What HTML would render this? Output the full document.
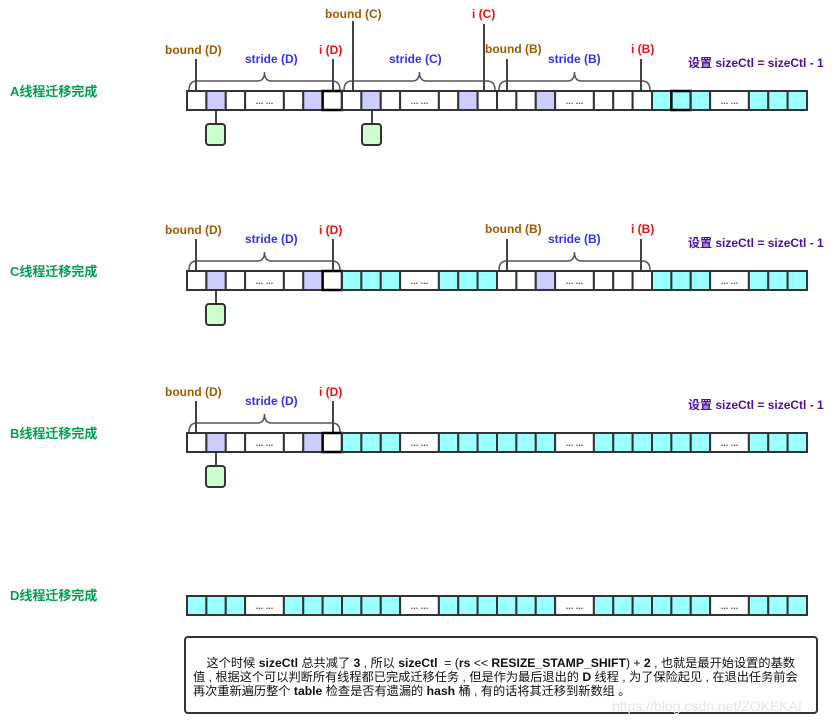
<!DOCTYPE html>
<html><head><meta charset="utf-8">
<style>
html,body{margin:0;padding:0;background:#fff;}
svg{display:block;}
text{font-family:"Liberation Sans","Noto Sans CJK SC",sans-serif;font-weight:bold;}
.lb{fill:#00a050;font-size:13px;}
.bd{fill:#a05a00;font-size:12px;}
.st{fill:#3333ee;font-size:12px;}
.ii{fill:#ee1111;font-size:12px;}
.sz{fill:#4b0fa0;font-size:12px;}
.box{position:absolute;left:184px;top:636px;width:634px;height:78px;border:2px solid #333;border-radius:4px;box-sizing:border-box;}
.box p{margin:0;position:absolute;left:7px;top:18px;white-space:nowrap;font-family:"Liberation Sans","Noto Sans CJK SC",sans-serif;font-size:12.2px;line-height:14px;color:#111;}
.wm{position:absolute;left:612px;top:698px;font-family:"Liberation Sans",sans-serif;font-size:14px;color:#e4e4e4;}
</style></head><body>
<div style="position:relative;width:835px;height:725px;overflow:hidden;">
<svg id="s" width="835" height="725" xmlns="http://www.w3.org/2000/svg">
<g stroke="#444" stroke-width="2" fill="none" id="lines"></g>
<text class="lb" x="10" y="96">A线程迁移完成</text>
<text class="lb" x="10" y="276">C线程迁移完成</text>
<text class="lb" x="10" y="438">B线程迁移完成</text>
<text class="lb" x="10" y="600">D线程迁移完成</text>

<text class="bd" x="165" y="54">bound (D)</text>
<text class="st" x="245" y="63">stride (D)</text>
<text class="ii" x="319" y="54">i (D)</text>
<text class="bd" x="325" y="18">bound (C)</text>
<text class="st" x="389" y="63">stride (C)</text>
<text class="ii" x="472" y="18">i (C)</text>
<text class="bd" x="485" y="53">bound (B)</text>
<text class="st" x="548" y="63">stride (B)</text>
<text class="ii" x="631" y="53">i (B)</text>
<text class="sz" x="688" y="67">设置 sizeCtl = sizeCtl - 1</text>

<text class="bd" x="165" y="234">bound (D)</text>
<text class="st" x="245" y="243">stride (D)</text>
<text class="ii" x="319" y="234">i (D)</text>
<text class="bd" x="485" y="233">bound (B)</text>
<text class="st" x="548" y="243">stride (B)</text>
<text class="ii" x="631" y="233">i (B)</text>
<text class="sz" x="688" y="247">设置 sizeCtl = sizeCtl - 1</text>

<text class="bd" x="165" y="396">bound (D)</text>
<text class="st" x="245" y="405">stride (D)</text>
<text class="ii" x="319" y="396">i (D)</text>
<text class="sz" x="688" y="409">设置 sizeCtl = sizeCtl - 1</text>
<g id="cells"></g>
</svg>
<div class="box"><p>&nbsp;&nbsp;&nbsp;&nbsp;这个时候 <b>sizeCtl</b> 总共减了 <b>3</b> , 所以 <b>sizeCtl</b> &nbsp;= (<b>rs</b> &lt;&lt; <b>RESIZE_STAMP_SHIFT</b>) + <b>2</b> , 也就是最开始设置的基数<br>值 , 根据这个可以判断所有线程都已完成迁移任务 , 但是作为最后退出的 <b>D</b> 线程 , 为了保险起见 , 在退出任务前会<br>再次重新遍历整个 <b>table</b> 检查是否有遗漏的 <b>hash</b> 桶 , 有的话将其迁移到新数组 。</p></div>
<div class="wm">https://blog.csdn.net/ZOKEKAI</div>
</div>
<script>
var NS="http://www.w3.org/2000/svg";
var cells=document.getElementById('cells'),lines=document.getElementById('lines');
function el(p,t,a){var e=document.createElementNS(NS,t);for(var k in a)e.setAttribute(k,a[k]);p.appendChild(e);return e;}
var U=155/8;
var rows=[[91,['D','C','B','Y']],[271,['D','Y','B','Y']],[433,['D','Y','Y','Y']],[596,['Y','Y','Y','Y']]];
var idx=[[0,1],[1,1],[2,1],[3,2],[5,1],[6,1],[7,1]];
rows.forEach(function(r,ri){
 var y=r[0];
 r[1].forEach(function(t,g){
  var x0=187+155*g;
  idx.forEach(function(c){
   var x=x0+c[0]*U,w=c[1]*U,f='#fff';
   if(t=='Y'&&c[1]==1)f='#99ffff';
   if((t=='D'||t=='C')&&(c[0]==1||c[0]==6))f='#ccccff';
   if(t=='B'&&c[0]==2)f='#ccccff';
   var thick=(t=='D'&&c[0]==7)||(ri==0&&g==3&&c[0]==1);
   el(cells,'rect',{x:x,y:y,width:w,height:19,fill:f,stroke:thick?'#000':'#333','stroke-width':thick?2.5:2});
   if(c[1]==2){var tx=el(cells,'text',{x:x+w/2,y:y+13,'text-anchor':'middle','font-size':9,fill:'#555'});tx.textContent='... ...';}
  });
 });
});
function brace(x1,x2,y){var m=(x1+x2)/2;
 el(lines,'path',{d:'M'+x1+' '+(y+9)+' Q'+x1+' '+y+' '+(x1+8)+' '+y+' L'+(m-7)+' '+y+' Q'+m+' '+y+' '+m+' '+(y-9)+' Q'+m+' '+y+' '+(m+7)+' '+y+' L'+(x2-8)+' '+y+' Q'+x2+' '+y+' '+x2+' '+(y+9),stroke:'#555','stroke-width':1.5});}
function vl(x,y1,y2){el(lines,'line',{x1:x,y1:y1,x2:x,y2:y2});}
function green(x,yb){vl(x+10,yb,yb+14);el(cells,'rect',{x:x,y:yb+14,width:19,height:21,rx:3,fill:'#ccffcc',stroke:'#333','stroke-width':2});}
brace(189,340,81);brace(344,495,81);brace(499,650,81);
vl(196,59,90);vl(333,59,90);vl(353,21,90);vl(484,24,90);vl(507,59,90);vl(641,59,90);
green(206,110);green(362,110);
brace(189,340,261);brace(499,650,261);
vl(196,239,270);vl(333,239,270);vl(507,239,270);vl(641,239,270);
green(206,290);
brace(189,340,423);
vl(196,401,432);vl(333,401,432);
green(206,452);
</script>
</body></html>
